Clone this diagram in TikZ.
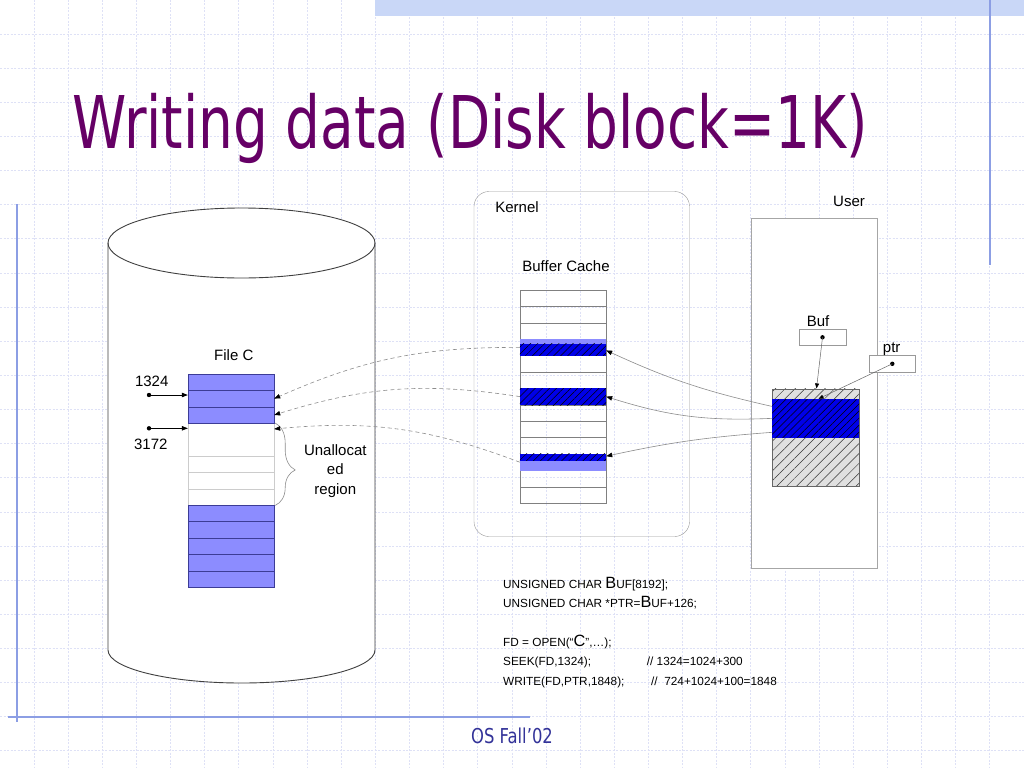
\documentclass[tikz,border=0pt]{standalone}
\usepackage{graphicx}
\usepackage{fontspec}
\setmainfont{Liberation Sans}
\newfontfamily\slidefont{DejaVu Sans}
\usetikzlibrary{arrows.meta, positioning, calc, patterns.meta, decorations.pathreplacing}

\definecolor{gridline}{RGB}{222,225,246}
\definecolor{bandblue}{RGB}{201,215,247}
\definecolor{ruleblue}{RGB}{140,158,228}
\definecolor{titlepurple}{RGB}{102,0,102}
\definecolor{footblue}{RGB}{51,51,153}
\definecolor{fileblue}{RGB}{140,140,255}
\definecolor{fileedge}{RGB}{60,60,150}
\definecolor{darkblue}{RGB}{0,0,232}
\definecolor{hatchgray}{RGB}{224,224,224}

\newcommand{\bigc}[1]{{\fontsize{16.3}{18}\selectfont #1}}

\begin{document}
\begin{tikzpicture}[x=1pt, y=1pt,
    txt/.style={font=\fontsize{15}{18}\selectfont, inner sep=0pt, anchor=base},
    code/.style={font=\fontsize{11.8}{14}\selectfont, inner sep=0pt, anchor=base west},
    fblk/.style={rectangle, draw=fileedge, fill=fileblue, minimum width=86, minimum height=16.4, inner sep=0pt},
    fempty/.style={fblk, draw=black!20, fill=white},
    cblk/.style={rectangle, draw=black!50, minimum width=86, minimum height=16.4, inner sep=0pt},
    hatchdark/.style={preaction={fill=darkblue}, pattern={Lines[angle=45, distance=5pt, line width=0.5pt]}, pattern color=black},
    hatchlight/.style={preaction={fill=hatchgray}, pattern={Lines[angle=45, distance=7pt, line width=0.5pt]}, pattern color=black!80},
    smallbox/.style={rectangle, draw=black!40, fill=white, inner sep=0pt},
    arrow/.style={-{Triangle[length=6pt, width=4.5pt, color=black]}, draw=black!45, line width=0.6pt},
    dasharrow/.style={arrow, dash pattern=on 4pt off 3pt},
    pointer/.style={-{Triangle[length=6pt, width=4.5pt]}, line width=0.7pt},
    thinptr/.style={-{Triangle[length=5pt, width=4pt, color=black]}, draw=black!60, line width=0.5pt}
]
    \useasboundingbox (0,0) rectangle (1024,-768);
    \fill[white] (0,0) rectangle (1024,-768);

    % slide background
    \foreach \i in {1,...,29}
        \draw[gridline, dash pattern=on 2pt off 1.5pt, line width=0.9pt] ({\i*34.133},0) -- ({\i*34.133},-768);
    \foreach \i in {1,...,22}
        \draw[gridline, dash pattern=on 2pt off 1.5pt, line width=0.9pt] (0,{-\i*34.133}) -- (1024,{-\i*34.133});
    \fill[bandblue] (375,0) rectangle (1024,-16);
    \draw[ruleblue, line width=1.3pt] (990,0) -- (990,-265);
    \draw[ruleblue, line width=1.3pt] (17,-204) -- (17,-722);
    \draw[ruleblue, line width=1.3pt] (8,-717) -- (530,-717);

    \node[anchor=base west, inner sep=0pt, text=titlepurple, font=\slidefont\fontsize{72.7}{80}\selectfont] (title) at (72,-148) {\scalebox{0.755}[1]{Writing data (Disk block=1K)}};
    \node[inner sep=0pt, text=footblue, font=\slidefont\fontsize{20.5}{24}\selectfont] (footer) at (512,-736) {\scalebox{0.8}[1]{OS Fall’02}};

    % disk
    \draw[black!75, line width=0.9pt, fill=white] (108,-243) -- (108,-650) arc[start angle=180, end angle=360, x radius=133.5, y radius=33] -- (375,-243) arc[start angle=0, end angle=180, x radius=133.5, y radius=35] -- cycle;
    \draw[black!75, line width=0.9pt] (108,-243) arc[start angle=180, end angle=360, x radius=133.5, y radius=35];

    \node[txt] (filec) at (233.8,-360.7) {File C};
    \node[fempty, minimum height=32.8] (f4) at (231,{-374-16.4*4}) {};
    \foreach \i in {5,6,7}
        \node[fempty] (f\i) at (231,{-374-16.4*(\i+0.5)}) {};
    \foreach \i in {1,2,3}
        \node[fblk] (f\i) at (231,{-374-16.4*(\i-0.5)}) {};
    \foreach \i in {8,...,12}
        \node[fblk] (f\i) at (231,{-374-16.4*(\i+0.5)}) {};

    \node[txt] (off1) at (151.7,-386) {1324};
    \node[txt] (off2) at (150.8,-449) {3172};
    \coordinate (p1324) at (149,-395);
    \coordinate (p3172) at (149,-428.3);
    \fill (p1324) circle (2.2);
    \fill (p3172) circle (2.2);
    \draw[pointer] (p1324) -- (p1324 -| f2.west);
    \draw[pointer] (p3172) -- (p3172 -| f4.west);

    \draw[black!45, line width=0.6pt, decorate, decoration={brace, amplitude=20pt, aspect=0.57}] ([xshift=1pt]f4.north east) -- ([xshift=1pt]f7.south east);
    \node[txt, anchor=center, align=center, font=\fontsize{15}{19.3}\selectfont] (unalloc) at (335.3,-471) {Unallocat\\ed\\region};

    % kernel side
    \node[rectangle, draw=black!40, rounded corners=15, minimum width=215.5, minimum height=345] (kernel) at (581.75,-364) {};
    \node[txt] (klabel) at (517,-212.7) {Kernel};
    \node[txt] (clabel) at (566,-271.7) {Buffer Cache};
    \foreach \i in {1,...,13}
        \node[cblk] (c\i) at (563,{-290-16.4*(\i-0.5)}) {};
    \fill[fileblue] (c4.north west) rectangle ([yshift=-4.8pt]c4.north east);
    \path[hatchdark] ([yshift=-4.8pt]c4.north west) rectangle (c4.south east);
    \path[hatchdark] (c7.north west) rectangle (c7.south east);
    \path[hatchdark] (c11.north west) rectangle ([yshift=-6.7pt]c11.north east);
    \fill[fileblue] ([yshift=-6.7pt]c11.north west) rectangle (c11.south east);

    % user side
    \node[smallbox, draw=black!35, minimum width=126, minimum height=350] (user) at (813.7,-393.3) {};
    \node[txt] (ulabel) at (849,-206) {User};
    \node[hatchlight, draw=black!60, minimum width=87, minimum height=97.3, inner sep=0pt] (ubuf) at (815.5,-437.35) {};
    \node[hatchdark, minimum width=87, minimum height=38.7, inner sep=0pt] (udata) at (815.5,-418.35) {};
    \node[smallbox, minimum width=47, minimum height=16] (bufbox) at (822.5,-337.3) {};
    \node[txt] (buflabel) at (818,-326.7) {Buf};
    \node[smallbox, minimum width=46, minimum height=17] (ptrbox) at (892.3,-363.8) {};
    \node[txt] (ptrlabel) at (891.7,-352.3) {ptr};
    \fill (bufbox.center) circle (2.2);
    \fill (ptrbox.center) circle (2.2);
    \draw[thinptr] (bufbox.center) -- ([xshift=1pt]ubuf.north);
    \draw[thinptr] (ptrbox.center) -- ([xshift=3pt]udata.north);

    % copies
    \draw[arrow] ([yshift=12pt]udata.west) to[bend left=6] ([yshift=-3pt]c4.east);
    \draw[arrow] (udata.west) to[bend left=10] (c7.east);
    \draw[arrow] ([yshift=-14pt]udata.west) to[bend right=4] ([yshift=6pt]c11.east);
    \draw[dasharrow] (c4.west) to[bend right=12] (f2.east);
    \draw[dasharrow] (c7.west) to[bend right=13] (f3.east);
    \draw[dasharrow] (c11.west) to[bend right=13] ([yshift=-6pt]f4.north east);

    % program
    \node[code] (line1) at (503,-588.5) {UNSIGNED CHAR \bigc{B}UF[8192];};
    \node[code] (line2) at (503,-607.5) {UNSIGNED CHAR *PTR=\bigc{B}UF+126;};
    \node[code] (line3) at (503,-646) {FD = OPEN(“\bigc{C}”,…);};
    \node[code] (line4) at (503,-665.5) {SEEK(FD,1324);};
    \node[code] (cmt4) at (646.7,-665.5) {// 1324=1024+300};
    \node[code] (line5) at (503,-685) {WRITE(FD,PTR,1848);};
    \node[code] (cmt5) at (651,-685) {//\ \ 724+1024+100=1848};
\end{tikzpicture}
\end{document}
